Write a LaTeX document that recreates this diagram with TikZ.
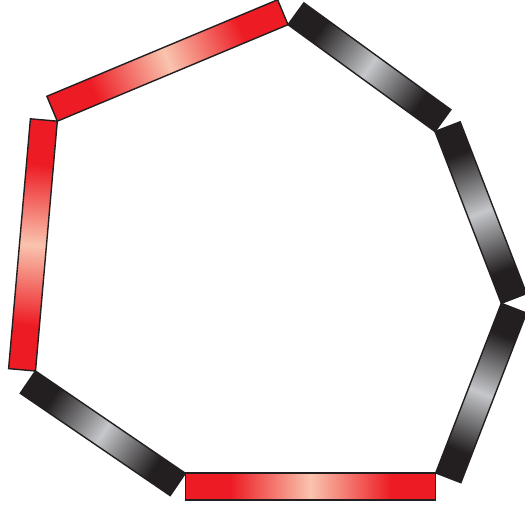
\documentclass[tikz,border=0pt]{standalone}
\usetikzlibrary{calc}
\definecolor{barred}{HTML}{ED1C24}
\definecolor{barpink}{HTML}{F9C4AE}
\definecolor{barblack}{HTML}{231F20}
\definecolor{bargray}{HTML}{C5C7CA}
% shadings run along the bar, the middle 25bp--75bp covers the bar
\pgfdeclarehorizontalshading{redglow}{100bp}{color(0bp)=(barred); color(25bp)=(barred);
  color(34bp)=(barred); color(50bp)=(barpink); color(66bp)=(barred);
  color(75bp)=(barred); color(100bp)=(barred)}
\pgfdeclarehorizontalshading{steelglow}{100bp}{color(0bp)=(barblack); color(25bp)=(barblack);
  color(33bp)=(barblack); color(50bp)=(bargray); color(67bp)=(barblack);
  color(75bp)=(barblack); color(100bp)=(barblack)}
\tikzset{
  bar/.style={draw=barblack,line width=0.8pt,shade},
  redbar/.style={bar,shading=redglow},
  blackbar/.style={bar,shading=steelglow}
}
% #1 inner start corner, #2 angle, #3 length, #4 style
\newcommand{\ringbar}[4]{%
  \begin{scope}[transform canvas={shift={(#1)},rotate=#2}]
    \path[#4] (0,0) rectangle (#3,27);
  \end{scope}}
\begin{document}
\begin{tikzpicture}[x=0.02cm,y=0.02cm]
  \useasboundingbox (0,0) rectangle (525,-510);
  % inner corners of the ring
  \coordinate (p1) at (57.3,-121.2);
  \coordinate (p2) at (288,-24.7);
  \coordinate (p3) at (435,-131.5);
  \coordinate (p4) at (501.3,-303.3);
  \coordinate (p5) at (435.7,-473);
  \coordinate (p6) at (185.4,-473.3);
  \coordinate (p7) at (35.5,-371);
  \ringbar{p1}{22.70}{250.1}{redbar}
  \ringbar{p2}{-36.00}{181.7}{blackbar}
  \ringbar{p3}{-68.90}{184.2}{blackbar}
  \ringbar{p4}{-111.13}{181.9}{blackbar}
  \ringbar{p5}{180}{250.3}{redbar}
  \ringbar{p6}{145.69}{181.5}{blackbar}
  \ringbar{p7}{85.01}{250.8}{redbar}
\end{tikzpicture}
\end{document}
